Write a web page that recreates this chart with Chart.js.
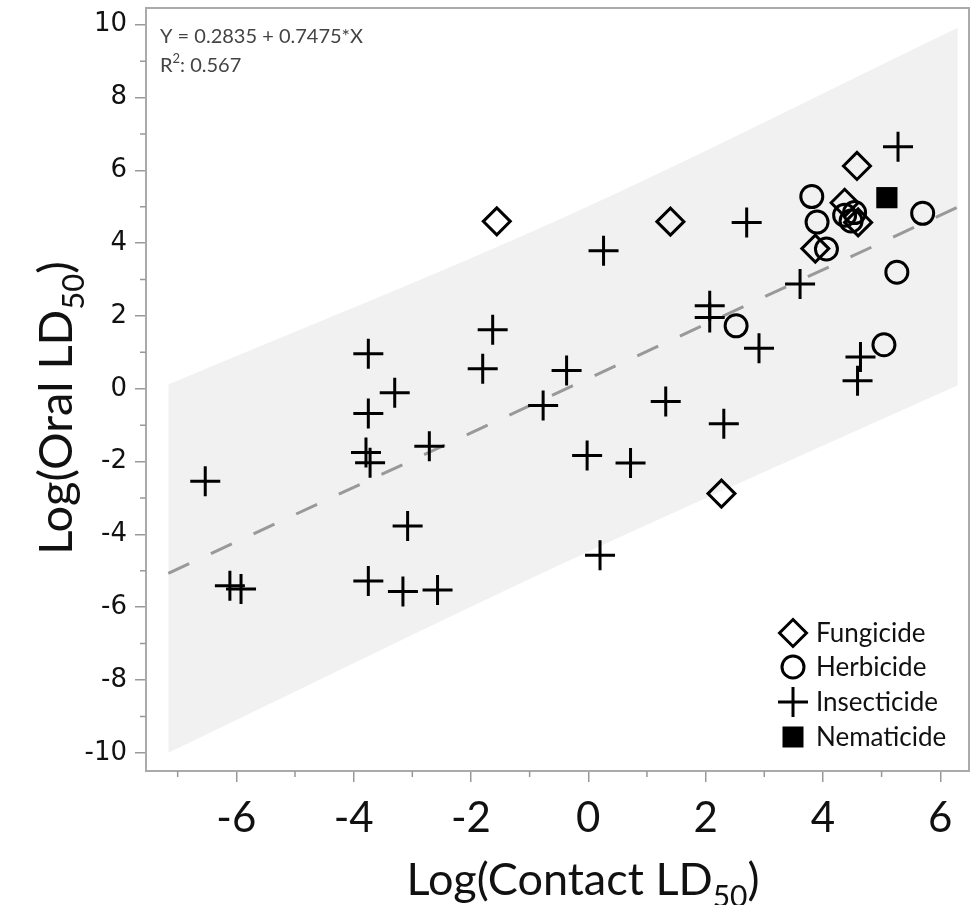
<!DOCTYPE html>
<html><head><meta charset="utf-8">
<script src="https://cdn.jsdelivr.net/npm/chart.js@4.4.0/dist/chart.umd.min.js"></script>
<style>html,body{margin:0;padding:0;background:#fff;} #wrap{width:971px;height:905px;position:relative;}</style>
</head><body><div id="wrap"><canvas id="c" width="971" height="905"></canvas></div>
<script>
// ---- data ----
const fungicideX = [-1.56, 1.40, 2.27, 3.87, 4.37, 4.60, 4.58];
const fungicideY = [4.60, 4.59, -2.88, 3.85, 5.11, 4.57, 6.12];

const herbicideX = [2.52, 3.81, 3.90, 4.06, 4.37, 4.54, 4.48, 5.04, 5.26, 5.70];
const herbicideY = [1.73, 5.28, 4.58, 3.84, 4.77, 4.84, 4.61, 1.21, 3.20, 4.82];

const insecticideX = [-6.53,-6.11,-5.92,-3.75,-3.75,-3.30,-3.79,-3.72,-2.71,-3.08,-3.75,-3.16,-2.57,-1.80,-1.63,-0.37,-0.77,0.26,1.32,2.31,-0.02,0.72,0.20,2.07,2.07,2.91,2.70,3.61,4.64,4.59,5.28];
const insecticideY = [-2.54,-5.41,-5.50,0.96,-0.68,-0.11,-1.75,-2.03,-1.58,-3.77,-5.28,-5.57,-5.53,0.55,1.62,0.50,-0.46,3.79,-0.35,-0.96,-1.83,-2.04,-4.57,2.28,1.96,1.11,4.57,2.88,0.87,0.22,6.65];

const nematicideX = [5.09];
const nematicideY = [5.25];

// fitted line (Y = 0.2835 + 0.7475*X) end points and shaded band
const fitX = [-7.16, 6.3];
const fitY = [-5.07, 4.99];
const bandX = [-7.16, -0.4, 6.3];
const bandUpper = [0.12, 4.72, 9.92];
const bandLower = [-10.0, -4.77, 0.1];

const xTicks = [-6, -4, -2, 0, 2, 4, 6];
const xTickLabels = ['-6', '-4', '-2', '0', '2', '4', '6'];
const xMinorTicks = [-7, -5, -3, -1, 1, 3, 5];
const yTicks = [-10, -8, -6, -4, -2, 0, 2, 4, 6, 8, 10];
const yTickLabels = ['-10', '-8', '-6', '-4', '-2', '0', '2', '4', '6', '8', '10'];
const yMinorTicks = [-9, -7, -5, -3, -1, 1, 3, 5, 7, 9];

const legendLabels = ['Fungicide', 'Herbicide', 'Insecticide', 'Nematicide'];
const equationText = 'Y = 0.2835 + 0.7475*X';
const r2Label = 'R';
const r2Value = ': 0.567';

// ---- helpers ----
const pts = (xs, ys) => xs.map((x, i) => ({x: x, y: ys[i]}));

function drawShape(ctx, kind, x, y) {
  ctx.save();
  ctx.strokeStyle = '#000';
  ctx.fillStyle = '#000';
  ctx.lineWidth = 3;
  ctx.beginPath();
  if (kind === 0) { const r = 13.5; ctx.moveTo(x, y - r); ctx.lineTo(x + r, y); ctx.lineTo(x, y + r); ctx.lineTo(x - r, y); ctx.closePath(); ctx.stroke(); }
  else if (kind === 1) { ctx.arc(x, y, 11, 0, Math.PI * 2); ctx.stroke(); }
  else if (kind === 2) { const r = 15; ctx.moveTo(x - r, y); ctx.lineTo(x + r, y); ctx.moveTo(x, y - r); ctx.lineTo(x, y + r); ctx.stroke(); }
  else { ctx.fillRect(x - 10.5, y - 10.5, 21, 21); }
  ctx.restore();
}

function drawSubText(ctx, main, sub, tail, size) {
  // draws at current origin, centred horizontally, baseline at 0
  ctx.font = size + 'px Lato';
  const w1 = ctx.measureText(main).width;
  const w3 = ctx.measureText(tail).width;
  ctx.font = Math.round(size * 0.66) + 'px Lato';
  const w2 = ctx.measureText(sub).width;
  let x = -(w1 + w2 + w3) / 2;
  ctx.textAlign = 'left';
  ctx.textBaseline = 'alphabetic';
  ctx.font = size + 'px Lato';
  ctx.fillText(main, x, 0); x += w1;
  ctx.font = Math.round(size * 0.66) + 'px Lato';
  ctx.fillText(sub, x, size * 0.26); x += w2;
  ctx.font = size + 'px Lato';
  ctx.fillText(tail, x, 0);
}

const decor = {
  id: 'decor',
  afterDraw(chart) {
    const ctx = chart.ctx;
    const a = chart.chartArea;
    const xs = chart.scales.x, ys = chart.scales.y;
    ctx.save();
    // frame
    ctx.strokeStyle = '#aaa';
    ctx.lineWidth = 2;
    ctx.strokeRect(a.left, a.top, a.right - a.left, a.bottom - a.top);
    // minor ticks
    ctx.strokeStyle = '#999';
    ctx.lineWidth = 1.5;
    ctx.beginPath();
    xMinorTicks.forEach(v => { const p = xs.getPixelForValue(v); ctx.moveTo(p, a.bottom); ctx.lineTo(p, a.bottom + 6); });
    yMinorTicks.forEach(v => { const p = ys.getPixelForValue(v); ctx.moveTo(a.left, p); ctx.lineTo(a.left - 6, p); });
    ctx.stroke();
    // equation
    ctx.fillStyle = '#444';
    ctx.font = '20px Lato';
    ctx.textAlign = 'left';
    ctx.textBaseline = 'alphabetic';
    ctx.fillText(equationText, a.left + 14, 43);
    ctx.fillText(r2Label, a.left + 14, 72);
    const rw = ctx.measureText(r2Label).width;
    ctx.font = '13px Lato';
    ctx.fillText('2', a.left + 14 + rw, 63);
    const tw = ctx.measureText('2').width;
    ctx.font = '20px Lato';
    ctx.fillText(r2Value, a.left + 14 + rw + tw, 72);
    // legend
    const ly = [633, 667, 702, 737];
    legendLabels.forEach((t, i) => {
      drawShape(ctx, i, 793, ly[i]);
      ctx.fillStyle = '#111';
      ctx.font = '26px Lato';
      ctx.textBaseline = 'middle';
      ctx.fillText(t, 816, ly[i] + 1);
    });
    // axis titles
    ctx.fillStyle = '#111';
    ctx.save();
    ctx.translate(583, 895);
    drawSubText(ctx, 'Log(Contact LD', '50', ')', 45);
    ctx.restore();
    ctx.save();
    ctx.translate(72, 408);
    ctx.rotate(-Math.PI / 2);
    drawSubText(ctx, 'Log(Oral LD', '50', ')', 47);
    ctx.restore();
    ctx.restore();
  }
};

const markerBase = {borderColor: '#000', borderWidth: 3, backgroundColor: 'rgba(0,0,0,0)', showLine: false, order: 1};

new Chart(document.getElementById('c'), {
  type: 'scatter',
  data: {
    datasets: [
      Object.assign({}, markerBase, {label: legendLabels[0], data: pts(fungicideX, fungicideY), pointStyle: 'rectRot', pointRadius: 13.5}),
      Object.assign({}, markerBase, {label: legendLabels[1], data: pts(herbicideX, herbicideY), pointStyle: 'circle', pointRadius: 11}),
      Object.assign({}, markerBase, {label: legendLabels[2], data: pts(insecticideX, insecticideY), pointStyle: 'cross', pointRadius: 15}),
      Object.assign({}, markerBase, {label: legendLabels[3], data: pts(nematicideX, nematicideY), pointStyle: 'rect', pointRadius: 15, backgroundColor: '#000', borderWidth: 0}),
      {label: 'fit', data: pts(fitX, fitY), showLine: true, borderColor: '#999', borderWidth: 3, borderDash: [23, 24], pointRadius: 0, fill: false, order: 5},
      {label: 'bandUpper', data: pts(bandX, bandUpper), showLine: true, borderWidth: 0, borderColor: 'rgba(0,0,0,0)', backgroundColor: '#f1f1f1', pointRadius: 0, fill: '+1', cubicInterpolationMode: 'monotone', order: 10},
      {label: 'bandLower', data: pts(bandX, bandLower), showLine: true, borderWidth: 0, borderColor: 'rgba(0,0,0,0)', pointRadius: 0, fill: false, cubicInterpolationMode: 'monotone', order: 11}
    ]
  },
  options: {
    responsive: false,
    animation: false,
    devicePixelRatio: 1,
    layout: {autoPadding: false, padding: {top: 8, right: 2, left: 0, bottom: 0}},
    plugins: {legend: {display: false}, tooltip: {enabled: false}},
    scales: {
      x: {
        type: 'linear', min: -7.54, max: 6.49,
        afterBuildTicks: s => { s.ticks = xTicks.map(v => ({value: v})); },
        afterFit: s => { s.height = 134; s.paddingLeft = 0; s.paddingRight = 0; },
        ticks: {font: {family: 'Lato', size: 42}, color: '#111', padding: 11, maxRotation: 0, autoSkip: false,
                callback: (v, i) => xTickLabels[i]},
        grid: {drawOnChartArea: false, drawTicks: true, tickLength: 11, color: '#999', lineWidth: 1.5},
        border: {display: true, color: '#aaa', width: 2}
      },
      y: {
        type: 'linear', min: -10.5, max: 10.46,
        afterBuildTicks: s => { s.ticks = yTicks.map(v => ({value: v})); },
        afterFit: s => { s.width = 146; s.paddingTop = 0; s.paddingBottom = 0; },
        ticks: {font: {family: 'DejaVu Sans', size: 26}, color: '#111', padding: 8, autoSkip: false,
                callback: (v, i) => yTickLabels[i]},
        grid: {drawOnChartArea: false, drawTicks: true, tickLength: 11, color: '#999', lineWidth: 1.5},
        border: {display: true, color: '#aaa', width: 2}
      }
    }
  },
  plugins: [decor]
});
</script>
</body></html>
